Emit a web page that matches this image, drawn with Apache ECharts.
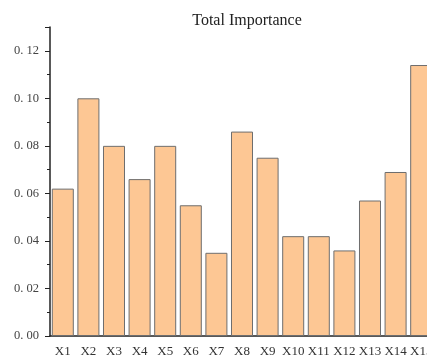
<!DOCTYPE html>
<html>
<head>
<meta charset="utf-8">
<script src="https://cdn.jsdelivr.net/npm/echarts@6/dist/echarts.min.js"></script>
<style>html,body{margin:0;padding:0;background:#fff;}#c{width:427px;height:356px;}</style>
</head>
<body>
<div id="c"></div>
<script>
var categories = ['X1','X2','X3','X4','X5','X6','X7','X8','X9','X10','X11','X12','X13','X14','X15'];
var importance = [0.062,0.100,0.080,0.066,0.080,0.055,0.035,0.086,0.075,0.042,0.042,0.036,0.057,0.069,0.114];
var titleText = 'Total Importance';
var yMin = 0, yMax = 0.13, yStep = 0.02;

var font = '"Liberation Serif", "DejaVu Serif", serif';
var chart = echarts.init(document.getElementById('c'), null, {renderer:'canvas'});
chart.setOption({
  animation: false,
  title: {
    text: titleText, left: 242, top: 8, textAlign: 'center',
    textStyle: {fontFamily: font, fontSize: 16, fontWeight: 'normal', color: '#222'}
  },
  grid: {left: 50, top: 27, bottom: 20, width: 384, outerBoundsMode: 'none', containLabel: false},
  xAxis: [{
    type: 'category', data: categories, position: 'bottom',
    axisLine: {lineStyle: {color: '#222', width: 1.5}},
    axisTick: {alignWithLabel: true, length: 5, lineStyle: {color: '#222', width: 1}},
    axisLabel: {fontFamily: font, fontSize: 13, color: '#333', margin: 9, interval: 0}
  },{
    type: 'category', data: categories, position: 'bottom', offset: 0,
    axisLine: {show: false},
    axisTick: {alignWithLabel: false, length: 3, lineStyle: {color: '#222', width: 1}},
    axisLabel: {show: false}
  }],
  yAxis: {
    type: 'value', min: yMin, max: yMax, interval: yStep,
    splitLine: {show: false},
    axisLine: {show: true, lineStyle: {color: '#222', width: 1.5}},
    axisTick: {show: true, length: 5, lineStyle: {color: '#222'}},
    minorTick: {show: true, splitNumber: 2, length: 3, lineStyle: {color: '#222'}},
    axisLabel: {
      fontFamily: font, fontSize: 12.5, color: '#444', margin: 11, showMaxLabel: false,
      formatter: function(v){ return v.toFixed(2).replace('.', '. '); }
    }
  },
  series: [{
    type: 'bar', data: importance, xAxisIndex: 0,
    barCategoryGap: '14%',
    itemStyle: {color: '#FDC794', borderColor: '#6e6e6e', borderWidth: 1}
  }]
});
</script>
</body>
</html>
